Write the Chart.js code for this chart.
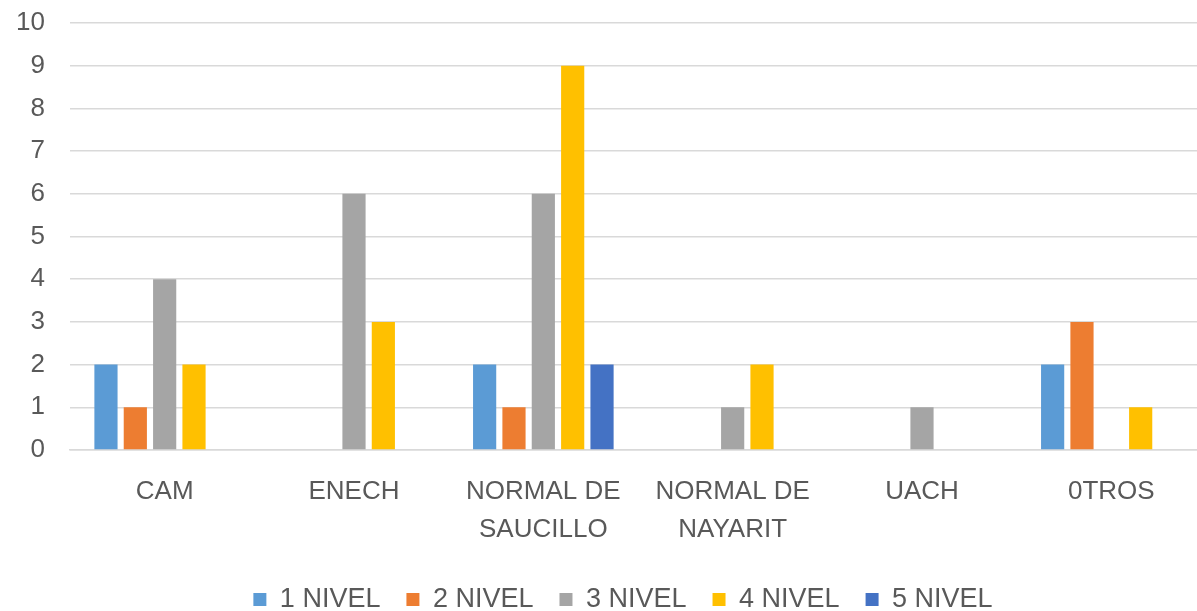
<!DOCTYPE html>
<html>
<head>
<meta charset="utf-8">
<script src="https://cdn.jsdelivr.net/npm/chart.js@4"></script>
<style>
  html, body { margin: 0; padding: 0; background: #fff; overflow: hidden; }
  #wrap { width: 1206px; height: 627px; }
</style>
</head>
<body>
<div id="wrap"><canvas id="chart"></canvas></div>
<script>
const categories = ["CAM", "ENECH", ["NORMAL DE", "SAUCILLO"], ["NORMAL DE", "NAYARIT"], "UACH", "0TROS"];
const nivel1 = [2, 0, 2, 0, 0, 2];
const nivel2 = [1, 0, 1, 0, 0, 3];
const nivel3 = [4, 6, 6, 1, 1, 0];
const nivel4 = [2, 3, 9, 2, 0, 1];
const nivel5 = [0, 0, 2, 0, 0, 0];
const seriesNames = ["1 NIVEL", "2 NIVEL", "3 NIVEL", "4 NIVEL", "5 NIVEL"];
const colors = ["#5B9BD5", "#ED7D31", "#A5A5A5", "#FFC000", "#4472C4"];

const font = "'Liberation Sans', Arial, sans-serif";
const textColor = "#595959";

// legend in the original sits a little right of centre
const legendShift = {
  id: "legendShift",
  afterLayout(chart) {
    chart.legend.left += 20;
    chart.legend.right += 20;
  }
};

new Chart(document.getElementById("chart"), {
  type: "bar",
  data: {
    labels: categories,
    datasets: [nivel1, nivel2, nivel3, nivel4, nivel5].map((d, i) => ({
      label: seriesNames[i],
      data: d,
      backgroundColor: colors[i],
      categoryPercentage: 0.775,
      barPercentage: 0.79
    }))
  },
  plugins: [legendShift],
  options: {
    responsive: true,
    maintainAspectRatio: false,
    animation: false,
    layout: { padding: { top: 23, left: 0, right: 0, bottom: 4 } },
    plugins: {
      legend: {
        position: "bottom",
        labels: {
          boxWidth: 13,
          boxHeight: 13,
          padding: 26,
          color: textColor,
          font: { family: font, size: 27 }
        }
      },
      tooltip: { enabled: false }
    },
    scales: {
      x: {
        grid: { display: false },
        border: { color: "#D9D9D9", width: 1.5 },
        afterFit: s => { s.height = 110; },
        ticks: {
          color: textColor,
          padding: 15,
          maxRotation: 0,
          font: { family: font, size: 26, lineHeight: 1.45 }
        }
      },
      y: {
        min: 0,
        max: 10,
        border: { display: false },
        grid: { color: "#D9D9D9", lineWidth: 1.5, drawTicks: false },
        afterFit: s => { s.width = 70; s.paddingTop = 0; s.paddingBottom = 0; },
        ticks: {
          stepSize: 1,
          color: textColor,
          padding: 25,
          font: { family: font, size: 26 }
        }
      }
    }
  }
});
</script>
</body>
</html>
